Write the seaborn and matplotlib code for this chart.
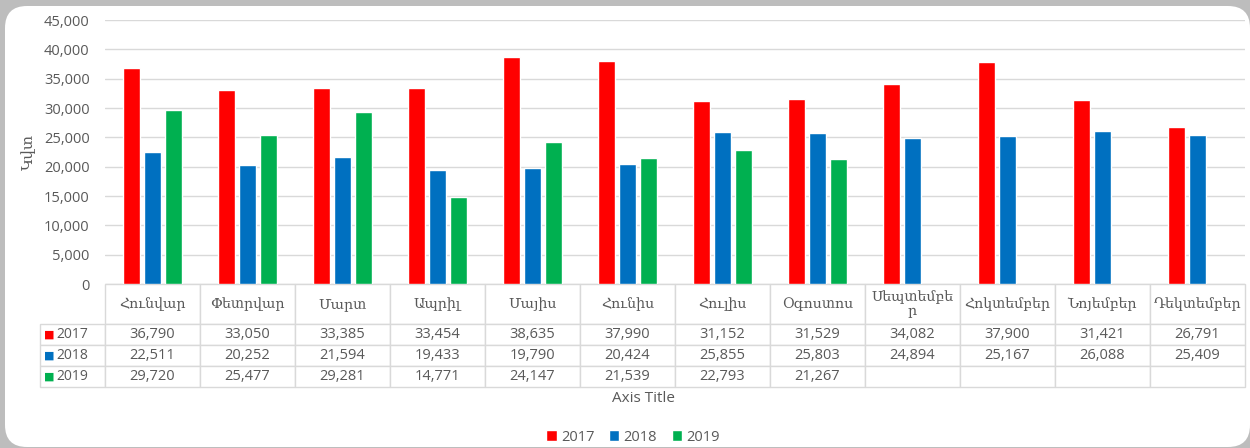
import numpy as np
import pandas as pd
import matplotlib
matplotlib.use("Agg")
import matplotlib.pyplot as plt
import seaborn as sns
from matplotlib.patches import FancyBboxPatch
from matplotlib.ticker import FuncFormatter

# data
months = ["Հունվար", "Փետրվար", "Մարտ", "Ապրիլ", "Մայիս", "Հունիս",
          "Հուլիս", "Օգոստոս", "Սեպտեմբե\nր", "Հոկտեմբեր", "Նոյեմբեր", "Դեկտեմբեր"]
years = ["2017", "2018", "2019"]
v2017 = [36790, 33050, 33385, 33454, 38635, 37990, 31152, 31529, 34082, 37900, 31421, 26791]
v2018 = [22511, 20252, 21594, 19433, 19790, 20424, 25855, 25803, 24894, 25167, 26088, 25409]
v2019 = [29720, 25477, 29281, 14771, 24147, 21539, 22793, 21267, None, None, None, None]
colors = ["#FF0000", "#0070C0", "#00B050"]

rows = []
for y, vals in zip(years, [v2017, v2018, v2019]):
    for m, v in zip(months, vals):
        rows.append({"month": m, "year": y, "value": v})
df = pd.DataFrame(rows)
df_plot = df.dropna()

sns.set_style("white")
plt.rcParams["font.family"] = ["Open Sans", "DejaVu Sans"]
grey = "#595959"

W, H = 12.5, 4.48
fig = plt.figure(figsize=(W, H), dpi=100)
fig.patch.set_facecolor("#bdbdbd")
panel = FancyBboxPatch((0.05, 0.01), 12.45, 4.41, boxstyle="round,pad=0,rounding_size=0.22",
                       transform=fig.dpi_scale_trans, facecolor="white", edgecolor="none", zorder=-5)
fig.patches.append(panel)

ax = fig.add_axes([105 / 1250, 1 - 284 / 448, 1140 / 1250, 264 / 448])
ax.set_facecolor("none")
sns.barplot(data=df_plot, x="month", y="value", hue="year", order=months, hue_order=years,
            palette=colors, saturation=1, width=0.66, gap=0.2, ax=ax, legend=True,
            errorbar=None, zorder=3)
handles, labels = ax.get_legend_handles_labels()
ax.get_legend().remove()

ax.set_ylim(0, 45000)
ax.set_xlim(-0.5, 11.5)
ax.set_yticks(np.arange(0, 45001, 5000))
ax.yaxis.set_major_formatter(FuncFormatter(lambda v, p: f"{int(v):,}"))
ax.tick_params(axis="y", length=0, pad=11, labelsize=10.5, labelcolor=grey)
ax.set_xticks([])
ax.set_xlabel("")
ax.grid(axis="y", color="#d9d9d9", linewidth=1, zorder=0)
for s in ax.spines.values():
    s.set_visible(False)
ax.set_ylabel("Կվտ", fontsize=11, color=grey, family="DejaVu Serif", labelpad=6)

# data table below the axis
cell_text = [[""] + months]
for y, vals in zip(years, [v2017, v2018, v2019]):
    cell_text.append([y] + ["" if v is None else f"{v:,}" for v in vals])

x0 = -65 / 1140
tbl = ax.table(cellText=cell_text, cellLoc="center",
               bbox=[x0, -103 / 264, 1205 / 1140, 103 / 264])
tbl.auto_set_font_size(False)
tbl.set_fontsize(10.5)
for (r, c), cell in tbl.get_celld().items():
    cell.set_edgecolor("#d9d9d9")
    cell.set_linewidth(1)
    cell.set_width(65 if c == 0 else 95)
    cell.set_height(40 if r == 0 else 21)
    cell.get_text().set_color(grey)
    if r == 0:
        cell.get_text().set_fontfamily("DejaVu Serif")
        cell.get_text().set_fontsize(10.2)
        cell.get_text().set_linespacing(1.0)
    if r == 0 and c == 0:
        cell.visible_edges = ""
    if r > 0 and c == 0:
        cell.get_text().set_text("")

# row labels with colour keys
row_y = [(-40 - 10.5) / 264, (-61 - 10.5) / 264, (-82 - 10.5) / 264]
for yy, lab, col in zip(row_y, years, colors):
    ax.text(x0 + 4 / 1140, yy, "■", color=col, fontsize=8, va="center", ha="left",
            family="DejaVu Sans", transform=ax.transAxes)
    ax.text(x0 + 16 / 1140, yy, lab, color=grey, fontsize=10, va="center", ha="left",
            transform=ax.transAxes)

fig.text(643 / 1250, 1 - 398 / 448, "Axis Title", ha="center", va="center", fontsize=11, color=grey)

fig.legend(handles, labels, loc="center", bbox_to_anchor=(633 / 1250, 1 - 437 / 448), ncol=3,
           frameon=False, fontsize=10.5, labelcolor=grey, handlelength=0.7, handleheight=0.7,
           handletextpad=0.3, columnspacing=1.0)

fig.savefig("out.png", dpi=100, facecolor=fig.get_facecolor())
